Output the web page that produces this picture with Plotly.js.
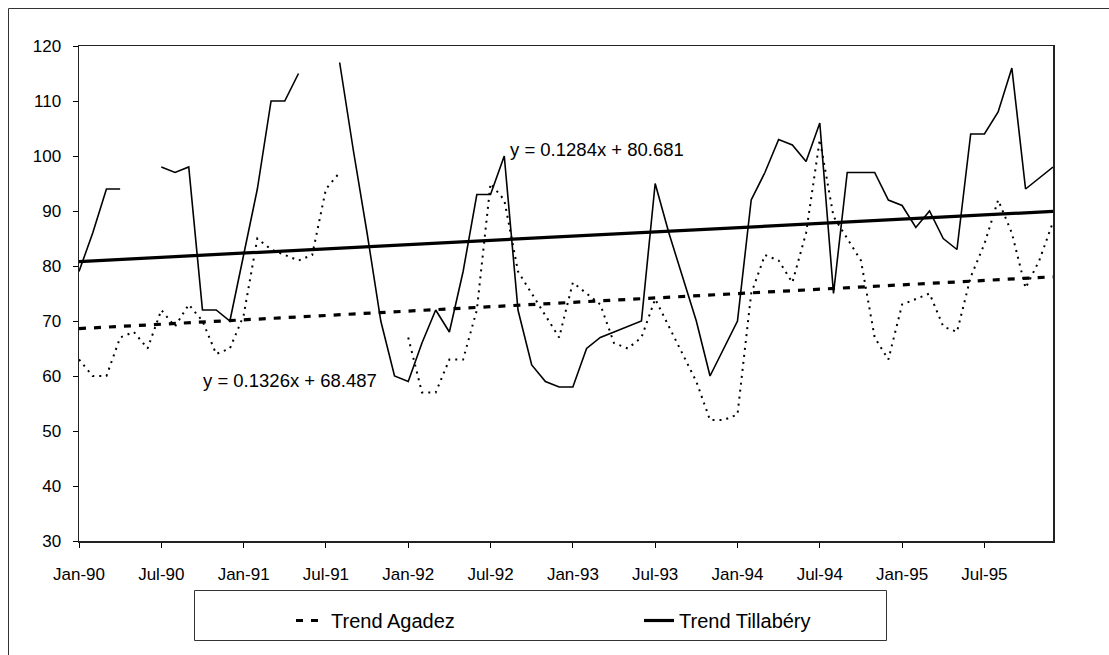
<!DOCTYPE html>
<html>
<head>
<meta charset="utf-8">
<script src="https://cdn.plot.ly/plotly-3.0.1.min.js"></script>
<style>
  html, body { margin: 0; padding: 0; background: #fff; }
  #chart { width: 1109px; height: 655px; }
</style>
</head>
<body>
<div id="chart"></div>
<script>
// ---- data ----
const monthNames = ["Jan","Feb","Mar","Apr","May","Jun","Jul","Aug","Sep","Oct","Nov","Dec"];
const years = ["90","91","92","93","94","95"];

const tillabery = [
  79, 86, 94, 94, null, null, 98, 97, 98, 72, 72, 70,
  82, 94, 110, 110, 115, null, null, 117, 101, 86, 70, 60,
  59, 66, 72, 68, 79, 93, 93, 100, 72, 62, 59, 58,
  58, 65, 67, 68, 69, 70, 95, 86, 78, 70, 60, 65,
  70, 92, 97, 103, 102, 99, 106, 75, 97, 97, 97, 92,
  91, 87, 90, 85, 83, 104, 104, 108, 116, 94, 96, 98
];

const agadez = [
  63, 60, 60, 67, 68, 65, 72, 69, 73, 70, 64, 65,
  71, 85, 83, 82, 81, 82, 94, 97, null, null, null, null,
  67, 57, 57, 63, 63, 72, 95, 92, 79, 75, 71, 67,
  77, 75, 73, 66, 65, 67, 74, 69, 64, 59, 52, 52,
  53, 75, 82, 81, 77, 86, 103, 89, 85, 81, 67, 63,
  73, 74, 75, 69, 68, 78, 84, 92, 86, 76, 81, 88
];

// trend equations shown on the chart (x = month number 1..72)
const trendAgadez = { slope: 0.1326, intercept: 68.487 };
const trendTillabery = { slope: 0.1284, intercept: 80.681 };

const legendNames = ["Trend Agadez", "Trend Tillabéry"];
const equationTexts = ["y = 0.1284x + 80.681", "y = 0.1326x + 68.487"];

// ---- build ----
const categories = [];
years.forEach(y => monthNames.forEach(m => categories.push(m + "-" + y)));
const tickCats = categories.filter((c, i) => i % 6 === 0);

const tA = categories.map((c, i) => trendAgadez.slope * (i + 1) + trendAgadez.intercept);
const tT = categories.map((c, i) => trendTillabery.slope * (i + 1) + trendTillabery.intercept);

const FONT = "Liberation Sans, Arial, sans-serif";

const traces = [
  { x: categories, y: tillabery, type: "scatter", mode: "lines", name: "Tillabéry",
    line: { color: "#000", width: 1.6 }, connectgaps: false, showlegend: false, hoverinfo: "skip" },
  { x: categories, y: agadez, type: "scatter", mode: "lines", name: "Agadez",
    line: { color: "#000", width: 2, dash: "2px,5px" }, connectgaps: false, showlegend: false, hoverinfo: "skip" },
  { x: categories, y: tA, type: "scatter", mode: "lines", name: legendNames[0],
    line: { color: "#000", width: 3.2, dash: "7px,8px" }, hoverinfo: "skip" },
  { x: categories, y: tT, type: "scatter", mode: "lines", name: legendNames[1],
    line: { color: "#000", width: 3.2 }, hoverinfo: "skip" }
];

const L = 79, R = 1053, T = 46, B = 541, W = 1109, H = 655;
const px = x => (x - L) / (R - L);
const py = y => (B - y) / (B - T);

const layout = {
  width: W, height: H,
  margin: { l: L, r: W - R, t: T, b: H - B, pad: 0 },
  paper_bgcolor: "#fff", plot_bgcolor: "#fff",
  font: { family: FONT, color: "#000", size: 17 },
  xaxis: {
    type: "category", range: [0, categories.length - 1],
    tickmode: "array", tickvals: tickCats, ticktext: tickCats,
    ticks: "outside", ticklen: 5, tickcolor: "#000", tickwidth: 1,
    showline: true, linecolor: "#222", linewidth: 1.5, mirror: true,
    showgrid: false, zeroline: false, ticklabelstandoff: 12,
    tickfont: { family: FONT, size: 17, color: "#000" }, fixedrange: true
  },
  yaxis: {
    range: [30, 120], dtick: 10, tick0: 30,
    ticks: "outside", ticklen: 5, tickcolor: "#000", tickwidth: 1,
    showline: true, linecolor: "#222", linewidth: 1.5, mirror: true,
    showgrid: false, zeroline: false, ticklabelstandoff: 8,
    tickfont: { family: FONT, size: 17, color: "#000" }, fixedrange: true
  },
  showlegend: true,
  legend: {
    orientation: "h", xref: "container", yref: "container",
    x: 291 / W, xanchor: "left", y: 1 - 601 / H, yanchor: "top",
    entrywidth: 303, bgcolor: "rgba(0,0,0,0)", borderwidth: 0,
    font: { family: FONT, size: 20, color: "#000" }, traceorder: "normal"
  },
  annotations: [
    { text: equationTexts[0], xref: "paper", yref: "paper", x: px(508), y: py(149),
      xanchor: "left", yanchor: "middle", showarrow: false, font: { family: FONT, size: 18.5, color: "#000" } },
    { text: equationTexts[1], xref: "paper", yref: "paper", x: px(201), y: py(381),
      xanchor: "left", yanchor: "middle", showarrow: false, font: { family: FONT, size: 18.5, color: "#000" } }
  ],
  shapes: [
    // outer chart frame (cut off at right and bottom in the picture)
    { type: "rect", xref: "paper", yref: "paper", x0: px(8.5), x1: px(1200), y0: py(720), y1: py(8.5),
      line: { color: "#333", width: 1 }, fillcolor: "rgba(0,0,0,0)", layer: "below" },
    // legend frame
    { type: "rect", xref: "paper", yref: "paper", x0: px(194.5), x1: px(886.5), y0: py(640.5), y1: py(590.5),
      line: { color: "#333", width: 1 }, fillcolor: "rgba(0,0,0,0)", layer: "below" }
  ]
};

Plotly.newPlot("chart", traces, layout, { displayModeBar: false, staticPlot: true });
</script>
</body>
</html>
